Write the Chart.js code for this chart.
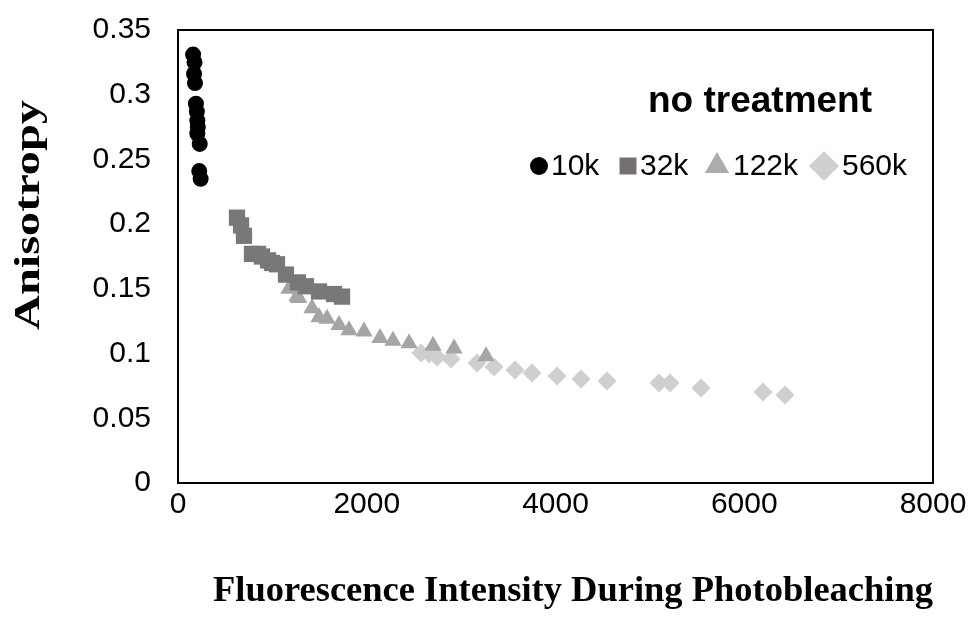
<!DOCTYPE html>
<html>
<head>
<meta charset="utf-8">
<script src="https://cdn.jsdelivr.net/npm/chart.js@4/dist/chart.umd.min.js"></script>
<style>
  html, body { margin: 0; padding: 0; background: #fff; }
  #wrap { width: 969px; height: 623px; }
</style>
</head>
<body>
<div id="wrap"><canvas id="chart" width="969" height="623"></canvas></div>
<script>
// series: 10k, 32k, 122k, 560k
const x10k = [160, 175, 170, 180, 190, 200, 205, 210, 205, 230, 225, 240];
const y10k = [0.331, 0.325, 0.316, 0.309, 0.293, 0.287, 0.280, 0.275, 0.270, 0.262, 0.241, 0.235];

const x32k = [625, 668, 699, 784, 848, 890, 954, 996, 1049, 1144, 1271, 1356, 1494, 1653, 1738];
const y32k = [0.205, 0.199, 0.191, 0.177, 0.177, 0.175, 0.172, 0.170, 0.169, 0.161, 0.155, 0.152, 0.148, 0.146, 0.144];

const x122k = [1176, 1261, 1280, 1420, 1494, 1579, 1706, 1812, 1971, 2140, 2278, 2448, 2702, 2925, 3264];
const y122k = [0.150, 0.144, 0.143, 0.135, 0.128, 0.127, 0.122, 0.118, 0.117, 0.112, 0.110, 0.108, 0.106, 0.104, 0.098];

const x560k = [2575, 2660, 2745, 2893, 3168, 3349, 3571, 3751, 4016, 4270, 4546, 5097, 5214, 5542, 6199, 6432];
const y560k = [0.1004, 0.0997, 0.0973, 0.0958, 0.0927, 0.0896, 0.0873, 0.0850, 0.0827, 0.0803, 0.0788, 0.0773, 0.0773, 0.0734, 0.0703, 0.0680];

const xTicks = [0, 2000, 4000, 6000, 8000];
const yTicks = [0, 0.05, 0.1, 0.15, 0.2, 0.25, 0.3, 0.35];

const seriesNames = ['10k', '32k', '122k', '560k'];
const legendTitle = 'no treatment';
const xTitle = 'Fluorescence Intensity During Photobleaching';
const yTitle = 'Anisotropy';

function pts(xs, ys) {
    return xs.map((x, i) => ({ x: x, y: ys[i] }));
}

// frame round the plot area
const boxPlugin = {
    id: 'box',
    afterDraw(chart) {
        const a = chart.chartArea;
        const ctx = chart.ctx;
        ctx.save();
        ctx.strokeStyle = '#000';
        ctx.lineWidth = 2;
        ctx.strokeRect(a.left, a.top, a.right - a.left, a.bottom - a.top);
        ctx.restore();
    }
};

// axis titles, placed like the original
const titlesPlugin = {
    id: 'titles',
    afterDraw(chart) {
        const ctx = chart.ctx;
        ctx.save();
        ctx.fillStyle = '#000';
        ctx.textAlign = 'center';
        ctx.textBaseline = 'middle';
        ctx.save();
        ctx.translate(573, 592);
        ctx.font = 'bold 36px "Liberation Serif", "Times New Roman", serif';
        const wx = ctx.measureText(xTitle).width;
        ctx.scale(720 / wx, 1);
        ctx.fillText(xTitle, 0, 0);
        ctx.restore();

        ctx.translate(30, 215);
        ctx.rotate(-Math.PI / 2);
        ctx.font = 'bold 35px "Liberation Serif", "Times New Roman", serif';
        const w = ctx.measureText(yTitle).width;
        ctx.scale(230 / w, 1);
        ctx.fillText(yTitle, 0, 0);
        ctx.restore();
    }
};

// legend inside the plot
const legendPlugin = {
    id: 'insideLegend',
    afterDraw(chart) {
        const ctx = chart.ctx;
        ctx.save();
        ctx.fillStyle = '#000';
        ctx.textAlign = 'center';
        ctx.textBaseline = 'middle';
        ctx.font = 'bold 37px "Liberation Sans", Arial, sans-serif';
        ctx.fillText(legendTitle, 760, 102);

        const markX = [539, 628, 717, 824];
        const textX = [551, 640, 733, 842];
        const markR = [9, 12, 14, 15];
        ctx.font = '30px "Liberation Sans", Arial, sans-serif';
        ctx.textAlign = 'left';
        chart.data.datasets.forEach((ds, i) => {
            ctx.fillStyle = ds.legendColor;
            ctx.strokeStyle = ds.legendColor;
            Chart.helpers.drawPoint(ctx, { pointStyle: ds.pointStyle, radius: markR[i], borderWidth: 0, rotation: 0 }, markX[i], 166);
            ctx.fillStyle = '#000';
            ctx.fillText(ds.label, textX[i], 167);
        });
        ctx.restore();
    }
};

new Chart(document.getElementById('chart'), {
    type: 'scatter',
    data: {
        datasets: [
            { label: seriesNames[0], data: pts(x10k, y10k), pointStyle: 'circle', pointRadius: 8,
              backgroundColor: '#000000', borderWidth: 0, legendColor: '#000000' },
            { label: seriesNames[1], data: pts(x32k, y32k), pointStyle: 'rect', pointRadius: 11.5,
              backgroundColor: '#7a7777', borderWidth: 0, legendColor: '#757171' },
            { label: seriesNames[2], data: pts(x122k, y122k), pointStyle: 'triangle', pointRadius: 10,
              backgroundColor: '#a5a5a5', borderWidth: 0, legendColor: '#aeabab' },
            { label: seriesNames[3], data: pts(x560k, y560k), pointStyle: 'rectRot', pointRadius: 9.5,
              backgroundColor: '#d0cece', borderWidth: 0, legendColor: '#d0cece' }
        ]
    },
    options: {
        responsive: false,
        animation: false,
        layout: { padding: { left: 0, right: 36, top: 30, bottom: 0 } },
        plugins: {
            legend: { display: false },
            tooltip: { enabled: false }
        },
        scales: {
            x: {
                type: 'linear',
                min: 0,
                max: 8000,
                afterBuildTicks: (s) => { s.ticks = xTicks.map(v => ({ value: v })); },
                afterFit: (s) => { s.height = 140; s.paddingLeft = 0; s.paddingRight = 0; },
                grid: { display: false, drawTicks: false },
                border: { display: false },
                ticks: {
                    padding: 4,
                    color: '#000',
                    font: { family: '"Liberation Sans", Arial, sans-serif', size: 30 },
                    callback: (v) => String(v)
                }
            },
            y: {
                min: 0,
                max: 0.35,
                afterBuildTicks: (s) => { s.ticks = yTicks.map(v => ({ value: v })); },
                afterFit: (s) => { s.width = 178; s.paddingTop = 0; s.paddingBottom = 0; },
                grid: { display: false, drawTicks: false },
                border: { display: false },
                ticks: {
                    padding: 27,
                    color: '#000',
                    font: { family: '"Liberation Sans", Arial, sans-serif', size: 30 },
                    callback: (v) => String(+v.toFixed(2))
                }
            }
        }
    },
    plugins: [boxPlugin, titlesPlugin, legendPlugin]
});
</script>
</body>
</html>
